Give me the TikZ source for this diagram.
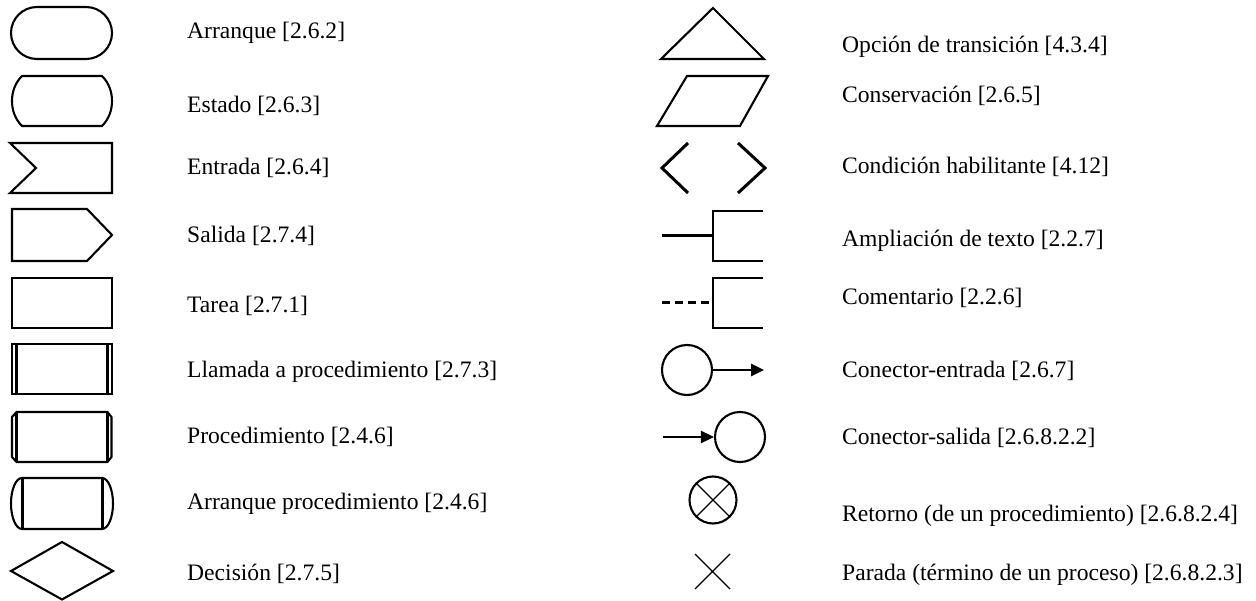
\documentclass[tikz,border=0pt]{standalone}
\usepackage{fontspec}
\setmainfont{Liberation Serif}
\usetikzlibrary{arrows.meta}
\begin{document}
\begin{tikzpicture}[x=1pt,y=-1pt,
  sym/.style={draw=black,line width=2.1pt,line join=miter},
  thinsym/.style={draw=black,line width=1.4pt},
  heavy/.style={draw=black,line width=3pt},
  lab/.style={anchor=base west,inner sep=0pt,font=\fontsize{23.6}{28}\selectfont},
  conn/.style={circle,draw=black,line width=2.1pt,minimum size=50pt,inner sep=0pt},
  arr/.style={draw=black,line width=2.6pt,-{Triangle[length=13pt,width=12pt]}}]
\useasboundingbox (0,0) rectangle (1256,601);
% ---------- left column ----------
% Arranque
\draw[sym] (37,7) -- (86,7) arc[start angle=-90,end angle=90,radius=26] -- (37,59) arc[start angle=90,end angle=270,radius=26] -- cycle;
\node[lab] (t1) at (187,39) {Arranque [2.6.2]};
% Estado
\draw[sym] (22,76) -- (102,76) .. controls (109,83) and (112,92) .. (112,101) .. controls (112,110) and (109,119) .. (102,126) -- (22,126) .. controls (15,119) and (12,110) .. (12,101) .. controls (12,92) and (15,83) .. (22,76) -- cycle;
\node[lab] (t2) at (187,113) {Estado [2.6.3]};
% Entrada
\draw[sym] (10,143) -- (112,143) -- (112,193) -- (10,193) -- (36,168) -- cycle;
\node[lab] (t3) at (187,175) {Entrada [2.6.4]};
% Salida
\draw[sym] (12,209) -- (87,209) -- (112,235) -- (87,261) -- (12,261) -- cycle;
\node[lab] (t4) at (187,243) {Salida [2.7.4]};
% Tarea
\draw[sym] (12,278) rectangle (112,328);
\node[lab] (t5) at (187,313) {Tarea [2.7.1]};
% Llamada a procedimiento
\draw[sym] (12,344) rectangle (112,394);
\draw[heavy] (16.5,344) -- (16.5,394) (107.5,344) -- (107.5,394);
\node[lab] (t6) at (187,378) {Llamada a procedimiento [2.7.3]};
% Procedimiento
\draw[sym] (16.5,412) -- (107.5,412) -- (111.5,417) -- (111.5,457) -- (107.5,462) -- (16.5,462) -- (12,457) -- (12,417) -- cycle;
\draw[heavy] (16.5,412) -- (16.5,462) (107.5,412) -- (107.5,462);
\node[lab] (t7) at (187,443) {Procedimiento [2.4.6]};
% Arranque procedimiento
\draw[sym] (22,478) -- (102,478) arc[start angle=-90,end angle=90,x radius=11,y radius=25.5] -- (22,529) arc[start angle=90,end angle=270,x radius=11,y radius=25.5] -- cycle;
\draw[heavy] (22,478) -- (22,529) (102,478) -- (102,529);
\node[lab] (t8) at (187,509) {Arranque procedimiento [2.4.6]};
% Decision
\draw[sym] (11,571) -- (62,542) -- (113,571) -- (62,599.5) -- cycle;
\node[lab] (t9) at (187,580) {Decisión [2.7.5]};
% ---------- right column ----------
% Opcion de transicion
\draw[sym] (713,8) -- (764,59) -- (661,59) -- cycle;
\node[lab] (r1) at (842,53) {Opción de transición [4.3.4]};
% Conservacion
\draw[sym] (687,76) -- (768,76) -- (740,126) -- (657,126) -- cycle;
\node[lab] (r2) at (842,103) {Conservación [2.6.5]};
% Condicion habilitante
\draw[heavy,line join=miter] (688,143) -- (662,168) -- (688,193);
\draw[heavy,line join=miter] (738,143) -- (765,168) -- (738,193);
\node[lab] (r3) at (842,174) {Condición habilitante [4.12]};
% Ampliacion de texto
\coordinate (a0) at (662,236);
\coordinate (a1) at (713,236);
\draw[heavy] (a0) -- (a1);
\draw[sym] (763,211) -- (713,211) -- (713,261) -- (763,261);
\node[lab] (r4) at (842,247) {Ampliación de texto [2.2.7]};
% Comentario
\coordinate (c0) at (662,303);
\coordinate (c1) at (713,303);
\draw[heavy,dash pattern=on 8pt off 5pt] (c0) -- (c1);
\draw[sym] (763,278) -- (713,278) -- (713,328) -- (763,328);
\node[lab] (r5) at (842,305) {Comentario [2.2.6]};
% Conector-entrada
\node[conn] (cin) at (687,370) {};
\coordinate (cinend) at (764,370);
\draw[arr] (cin.east) -- (cinend);
\node[lab] (r6) at (842,378) {Conector-entrada [2.6.7]};
% Conector-salida
\node[conn] (cout) at (740,437) {};
\coordinate (coutstart) at (663,437);
\draw[arr] (coutstart) -- (cout.west);
\node[lab] (r7) at (842,445) {Conector-salida [2.6.8.2.2]};
% Retorno
\node[conn,minimum size=47pt] (ret) at (713,500) {};
\draw[thinsym] (ret.north west) -- (ret.south east) (ret.north east) -- (ret.south west);
\node[lab] (r8) at (842,521) {Retorno (de un procedimiento) [2.6.8.2.4]};
% Parada
\draw[thinsym] (695,554) -- (730,589) (695,589) -- (730,554);
\node[lab] (r9) at (842,580) {Parada (término de un proceso) [2.6.8.2.3]};
\end{tikzpicture}
\end{document}
